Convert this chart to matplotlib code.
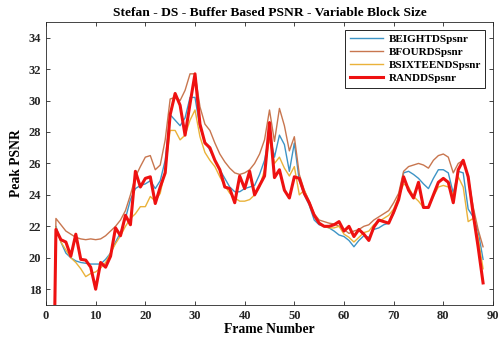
import matplotlib.pyplot as plt
import numpy as np

################################################################
# PSNR per frame for each buffer strategy ======================
frames = np.arange(1, 89)

beight = [0.0, 22.0, 21.0, 20.3, 20.0, 19.8, 19.7, 19.65, 19.6, 19.6,
          19.6, 19.9, 20.3, 21.0, 21.6, 22.5, 23.7, 24.4, 24.6, 24.7,
          24.9, 24.4, 24.9, 26.2, 29.1, 28.75, 28.4, 28.9, 30.2, 30.2,
          28.3, 27.4, 26.85, 26.2, 25.6, 25.05, 24.5, 24.2, 24.2, 24.4,
          24.5, 24.6, 25.3, 26.2, 27.9, 26.4, 27.8, 27.2, 25.5, 27.3,
          24.9, 24.0, 23.35, 22.4, 22.1, 22.0, 21.9, 21.7, 21.45, 21.35,
          21.1, 20.7, 21.1, 21.4, 21.3, 21.8, 21.9, 22.1, 22.2, 22.8,
          23.7, 25.4, 25.5, 25.3, 25.05, 24.7, 24.4, 25.05, 25.6, 25.6,
          25.4, 24.1, 25.5, 25.4, 23.1, 22.6, 21.7, 19.9]

bfour = [0.0, 22.5, 22.1, 21.7, 21.5, 21.3, 21.2, 21.15, 21.2, 21.15,
         21.2, 21.4, 21.7, 22.0, 22.4, 23.0, 24.0, 25.15, 25.8, 26.4,
         26.5, 25.6, 25.9, 27.5, 30.1, 30.2, 30.0, 30.65, 31.7, 31.7,
         29.6, 28.5, 28.1, 27.3, 26.6, 26.1, 25.7, 25.4, 25.3, 25.4,
         25.6, 26.0, 26.6, 27.5, 29.4, 27.4, 29.5, 28.4, 26.8, 27.7,
         25.3, 24.3, 23.6, 22.8, 22.4, 22.3, 22.2, 22.15, 22.0, 21.8,
         21.55, 21.7, 21.8, 22.0, 22.1, 22.4, 22.6, 22.8, 23.0, 23.5,
         24.1, 25.5, 25.8, 25.9, 26.0, 25.9, 25.7, 26.2, 26.5, 26.6,
         26.4, 25.4, 26.0, 26.2, 25.15, 23.25, 21.8, 20.7]

bsixteen = [0.0, 21.9, 21.0, 20.5, 20.0, 19.7, 19.3, 18.8, 19.0, 19.1,
            19.35, 19.7, 20.3, 20.9, 21.4, 22.0, 22.5, 22.8, 23.25, 23.25,
            23.9, 23.6, 24.1, 25.6, 28.1, 28.1, 27.5, 27.8, 28.75, 29.4,
            27.7, 26.7, 26.2, 25.8, 25.15, 24.6, 24.1, 23.8, 23.6, 23.6,
            23.7, 24.0, 24.5, 25.6, 27.6, 26.0, 26.4, 25.7, 25.2, 25.8,
            24.0, 24.3, 23.5, 22.7, 22.2, 22.0, 21.9, 21.9, 22.0, 21.5,
            21.3, 21.0, 21.3, 21.6, 21.7, 22.1, 22.3, 22.5, 22.7, 23.1,
            23.9, 24.7, 24.5, 23.9, 23.6, 23.2, 23.2, 23.9, 24.5, 24.6,
            24.5, 24.0, 25.15, 24.5, 22.3, 22.5, 21.3, 19.3]

randd = [0.0, 21.8, 21.15, 21.0, 20.1, 21.5, 19.9, 19.85, 19.4, 18.0,
         19.7, 19.4, 20.1, 21.9, 21.4, 22.7, 22.1, 25.5, 24.5, 25.05,
         25.15, 23.45, 24.5, 25.4, 29.1, 30.45, 29.7, 27.8, 29.8, 31.7,
         28.5, 27.3, 27.0, 26.2, 25.6, 24.5, 24.4, 23.5, 25.2, 24.4,
         25.5, 24.0, 24.6, 25.2, 28.6, 25.1, 25.6, 24.3, 23.8, 25.15,
         25.05, 24.1, 23.5, 22.7, 22.2, 22.0, 22.0, 22.1, 22.3, 21.7,
         22.0, 21.35, 21.8, 21.5, 21.1, 21.95, 22.4, 22.3, 22.2, 22.9,
         23.7, 25.15, 24.3, 23.8, 24.8, 23.2, 23.2, 24.0, 24.8, 25.05,
         24.8, 23.5, 25.6, 26.2, 25.15, 22.8, 20.7, 18.4]

names = ['BEIGHTDSpsnr', 'BFOURDSpsnr', 'BSIXTEENDSpsnr', 'RANDDSpsnr']
# end data =====================================================

plt.rcParams['font.family'] = 'Liberation Serif'
plt.rcParams['font.weight'] = 'bold'

fig = plt.figure(figsize=(5.0, 3.43), dpi=100)
ax = fig.add_axes([0.092, 0.111, 0.894, 0.825])

ax.plot(frames, beight, color='#3d94c6', lw=1.0, label=names[0])
ax.plot(frames, bfour, color='#c8764f', lw=1.0, label=names[1])
ax.plot(frames, bsixteen, color='#eab23a', lw=1.0, label=names[2])
ax.plot(frames, randd, color='#ee1111', lw=2.2, label=names[3])

ax.set_xlim(0, 90)
ax.set_ylim(17, 35)
ax.set_xticks(np.arange(0, 91, 10))
ax.set_yticks(np.arange(18, 35, 2))
ax.tick_params(direction='in', top=True, right=True, length=3,
               labelsize=9, colors='#262626', width=0.6)
for s in ax.spines.values():
    s.set_color('#262626')
    s.set_linewidth(0.6)

ax.set_title('Stefan - DS - Buffer Based PSNR - Variable Block Size',
             fontsize=9.7, fontweight='bold', pad=4)
ax.set_xlabel('Frame Number', fontsize=9.8, fontweight='bold', labelpad=1)
ax.set_ylabel('Peak PSNR', fontsize=9.8, fontweight='bold', labelpad=4)

leg = ax.legend(loc='upper right', fontsize=8, fancybox=False,
                framealpha=1, edgecolor='#262626', handlelength=3.0,
                borderpad=0.4, labelspacing=0.3, handletextpad=0.5,
                borderaxespad=0.7)
leg.get_frame().set_linewidth(0.7)
for t in leg.get_texts():
    t.set_fontweight('bold')

plt.savefig('out.png', dpi=100)
